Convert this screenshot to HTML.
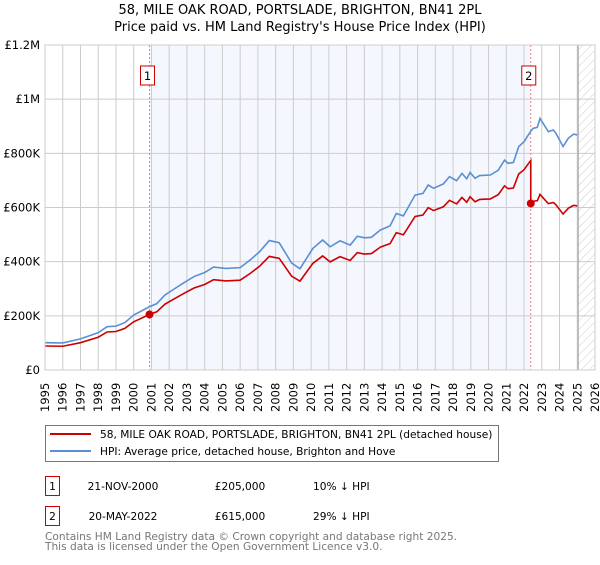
<!DOCTYPE html>
<html><head><meta charset="utf-8"><style>
body{margin:0;background:#fff;font-family:"Liberation Sans","DejaVu Sans",sans-serif;}
svg text{font-family:"DejaVu Sans","Liberation Sans",sans-serif;}
</style></head><body>
<svg id="c" width="600" height="560" xmlns="http://www.w3.org/2000/svg">
<defs><pattern id="hatch" width="6" height="6" patternUnits="userSpaceOnUse" patternTransform="rotate(45)"><line x1="0" y1="0" x2="0" y2="6" stroke="#ccc" stroke-width="1"/></pattern></defs>
<text x="300" y="14" text-anchor="middle" font-size="13" fill="#000">58, MILE OAK ROAD, PORTSLADE, BRIGHTON, BN41 2PL</text>
<text x="300" y="31" text-anchor="middle" font-size="13" fill="#000">Price paid vs. HM Land Registry's House Price Index (HPI)</text>
<g id="plot"></g>
<g>
<rect x="45.5" y="425.5" width="453" height="36" fill="#fff" stroke="#777"/>
<line x1="50" y1="434" x2="91" y2="434" stroke="#cc0000" stroke-width="2"/>
<text x="100" y="438" font-size="10.6">58, MILE OAK ROAD, PORTSLADE, BRIGHTON, BN41 2PL (detached house)</text>
<line x1="50" y1="451" x2="91" y2="451" stroke="#5b8fd4" stroke-width="2"/>
<text x="100" y="455" font-size="10.6">HPI: Average price, detached house, Brighton and Hove</text>
</g>
<g font-size="10.6">
<rect x="45.5" y="476.5" width="14" height="19" fill="#fff" stroke="#cc0000"/>
<text x="52.5" y="490" text-anchor="middle">1</text>
<text x="123" y="490" text-anchor="middle">21-NOV-2000</text>
<text x="240" y="490" text-anchor="middle">£205,000</text>
<text x="313" y="490">10% ↓ HPI</text>
<rect x="45.5" y="506.5" width="14" height="19" fill="#fff" stroke="#cc0000"/>
<text x="52.5" y="520" text-anchor="middle">2</text>
<text x="123" y="520" text-anchor="middle">20-MAY-2022</text>
<text x="240" y="520" text-anchor="middle">£615,000</text>
<text x="313" y="520">29% ↓ HPI</text>
</g>
<text x="45" y="540" font-size="10.6" fill="#777">Contains HM Land Registry data © Crown copyright and database right 2025.</text>
<text x="45" y="550" font-size="10.6" fill="#777">This data is licensed under the Open Government Licence v3.0.</text>
</svg>
<script>
const hpiYears=[1995.0,1996.0,1997.0,1998.0,1998.5,1999.0,1999.5,2000.0,2000.9,2001.3,2001.76,2002.3,2002.8,2003.4,2004.0,2004.5,2005.2,2006.0,2006.56,2007.1,2007.64,2008.2,2008.9,2009.37,2010.1,2010.65,2011.07,2011.63,2012.2,2012.6,2013.0,2013.4,2013.9,2014.45,2014.8,2015.2,2015.86,2016.3,2016.6,2016.9,2017.45,2017.8,2018.2,2018.5,2018.77,2018.96,2019.24,2019.5,2020.1,2020.55,2020.9,2021.1,2021.4,2021.7,2022.0,2022.3,2022.5,2022.75,2022.9,2023.37,2023.65,2023.8,2024.2,2024.5,2024.8,2025.0];
const hpiValues=[101000,100000,115000,138000,160000,162000,175000,203000,234000,245000,277000,300000,321000,345000,360000,380000,375000,378000,406000,437000,478000,470000,395000,374000,449000,480000,455000,477000,461000,494000,488000,490000,517000,532000,578000,569000,646000,652000,683000,671000,687000,714000,699000,726000,706000,729000,708000,718000,720000,738000,775000,763000,766000,825000,843000,874000,892000,896000,929000,880000,886000,874000,825000,856000,871000,868000];
const saleLabels=["1","2"];
const saleYears=[2000.89,2022.38];
const salePrices=[205000,615000];
const yTickValues=[0,200000,400000,600000,800000,1000000,1200000];
const yTickLabels=["£0","£200K","£400K","£600K","£800K","£1M","£1.2M"];
const xTickYears=[1995,1996,1997,1998,1999,2000,2001,2002,2003,2004,2005,2006,2007,2008,2009,2010,2011,2012,2013,2014,2015,2016,2017,2018,2019,2020,2021,2022,2023,2024,2025,2026];
const dataEndYear=2025.05;

const X0=45,X1=595,Y0=370,Y1=45;
const xs=y=>X0+(y-1995)/(2026-1995)*(X1-X0);
const ys=v=>Y0-v/1200000*(Y0-Y1);
const NS="http://www.w3.org/2000/svg";
const g=document.getElementById('plot');
function mk(t,a,p){const e=document.createElementNS(NS,t);for(const k in a)e.setAttribute(k,a[k]);(p||g).appendChild(e);return e;}
function hpiAt(t){for(let i=0;i<hpiYears.length-1;i++){if(t<=hpiYears[i+1]){const f=(t-hpiYears[i])/(hpiYears[i+1]-hpiYears[i]);return hpiValues[i]+f*(hpiValues[i+1]-hpiValues[i]);}}return hpiValues[hpiValues.length-1];}

let r=mk('rect',{x:xs(saleYears[0]),y:Y1,width:xs(saleYears[1])-xs(saleYears[0]),height:Y0-Y1,fill:'#f4f7fd'});


r=mk('rect',{x:xs(dataEndYear),y:Y1,width:X1-xs(dataEndYear),height:Y0-Y1,fill:'url(#hatch)'});


xTickYears.forEach((yr,i)=>{
 const x=xs(yr);
 const l=mk('line',{x1:x,x2:x,y1:Y1,y2:Y0,stroke:'#ccc','stroke-width':1});
 
 
 const t=mk('text',{x:0,y:0,transform:`translate(${x+4},412) rotate(-90)`,'font-size':'11.5'});
 t.textContent=yr;
 
 
});
yTickValues.forEach((v,i)=>{
 const y=ys(v);
 const l=mk('line',{x1:X0,x2:X1,y1:y,y2:y,stroke:'#ccc','stroke-width':1});
 
 
 const t=mk('text',{x:40,y:y+4,'text-anchor':'end','font-size':'11.5'});
 t.textContent=yTickLabels[i];
 
 
});
const el=mk('line',{x1:xs(dataEndYear),x2:xs(dataEndYear),y1:Y1,y2:Y0,stroke:'#999','stroke-width':1});


saleYears.forEach((yr,i)=>{
 const l=mk('line',{x1:xs(yr),x2:xs(yr),y1:Y1,y2:Y0,stroke:'#f08080','stroke-width':1,'stroke-dasharray':'2,2'});
 
 
});
const hp=mk('polyline',{points:hpiYears.map((y,i)=>xs(y)+','+ys(hpiValues[i])).join(' '),fill:'none',stroke:'#5b8fd4','stroke-width':1.6});


const pts=[];
hpiYears.forEach((y,i)=>{
 let k=0;for(let j=0;j<saleYears.length;j++)if(y>=saleYears[j])k=j;
 if(i>0&&hpiYears[i-1]<saleYears[1]&&y>=saleYears[1]){
   const r0=salePrices[0]/hpiAt(saleYears[0]);
   pts.push([saleYears[1],hpiAt(saleYears[1])*r0]);pts.push([saleYears[1],salePrices[1]]);
 }
 pts.push([y,hpiValues[i]*salePrices[k]/hpiAt(saleYears[k])]);
});
const pp=mk('polyline',{points:pts.map(p=>xs(p[0])+','+ys(p[1])).join(' '),fill:'none',stroke:'#cc0000','stroke-width':1.6});


saleYears.forEach((yr,i)=>{
 const c=mk('circle',{cx:xs(yr),cy:ys(salePrices[i]),r:4,fill:'#cc0000'});
 
 
 const bx=xs(yr)-9;
 const b=mk('rect',{x:bx,y:Y1+21,width:14,height:19,fill:'#fff',stroke:'#cc0000'});
 
 
 const t=mk('text',{x:bx+7,y:Y1+35,'text-anchor':'middle','font-size':'11.5'});
 t.textContent=saleLabels[i];
 
 
});
const ax=mk('rect',{x:X0,y:Y1,width:X1-X0,height:Y0-Y1,fill:'none',stroke:'#ccc'});


</script>
</body></html>
